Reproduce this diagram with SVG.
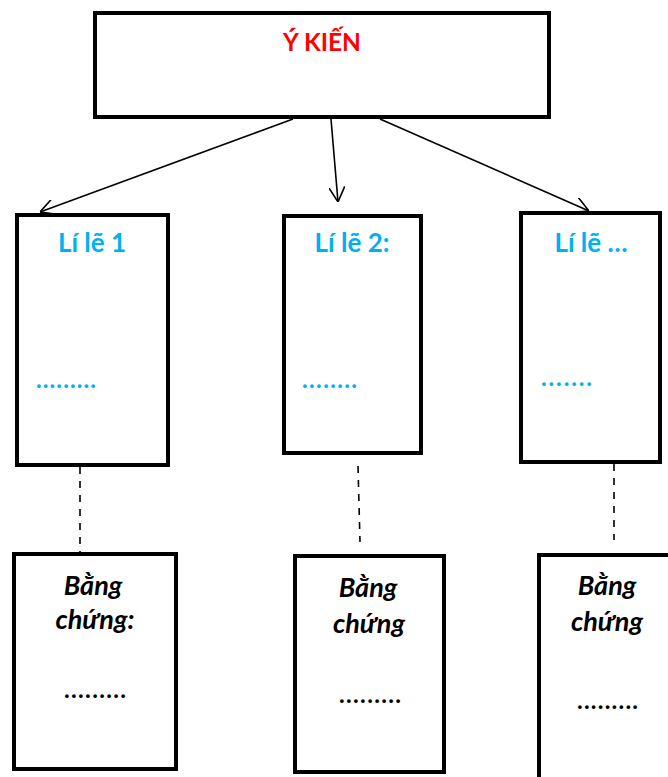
<svg xmlns="http://www.w3.org/2000/svg" width="668" height="777" viewBox="0 0 668 777">
<style>
.box{fill:#fff;stroke:#000;stroke-width:4}
.title{font-family:Lato,"Liberation Sans",sans-serif;font-weight:bold;font-size:24.5px;fill:#FF0000}
.reason{font-family:Lato,"Liberation Sans",sans-serif;font-weight:bold;font-size:26px;fill:#00B0F0}
.rdots{font-family:Lato,"Liberation Sans",sans-serif;font-weight:bold;font-size:24px;fill:#00B0F0}
.ev{font-family:Lato,"Liberation Sans",sans-serif;font-weight:bold;font-style:italic;font-size:27px;fill:#000}
.edots{font-family:Lato,"Liberation Sans",sans-serif;font-weight:bold;font-size:24px;fill:#000}
.arrow{stroke:#000;stroke-width:1.6;fill:none;marker-end:url(#ah)}
.dash{stroke:#000;stroke-width:1.6;fill:none;stroke-dasharray:7 7}
</style>
<defs>
<marker id="ah" viewBox="0 0 15 16" refX="15" refY="8" markerWidth="15" markerHeight="16" markerUnits="userSpaceOnUse" orient="auto">
<path d="M0,0 L15,8 L0,16" fill="none" stroke="#000" stroke-width="1.6"/>
</marker>
</defs>
<rect width="668" height="777" fill="#fff"/>
<g id="connectors">
<line class="arrow" x1="293" y1="119" x2="40" y2="212"/>
<line class="arrow" x1="331" y1="119" x2="338" y2="202"/>
<line class="arrow" x1="380" y1="119" x2="589" y2="211"/>
<line class="dash" x1="80" y1="467" x2="80" y2="553"/>
<line class="dash" x1="358" y1="466" x2="360" y2="542"/>
<line class="dash" x1="614" y1="464" x2="614" y2="540"/>
</g>
<g id="y-kien">
<rect class="box" x="95" y="13" width="454" height="104"/>
<text class="title" x="322" y="51" text-anchor="middle">Ý KIẾN</text>
</g>
<g id="li-le-1">
<rect class="box" x="17" y="215" width="151" height="250"/>
<text class="reason" x="92" y="252" text-anchor="middle">Lí lẽ 1</text>
<text class="rdots" x="36" y="388" textLength="60" lengthAdjust="spacing">.........</text>
</g>
<g id="li-le-2">
<rect class="box" x="284" y="216" width="137" height="237"/>
<text class="reason" x="352" y="252" text-anchor="middle">Lí lẽ 2:</text>
<text class="rdots" x="302" y="388" textLength="55" lengthAdjust="spacing">........</text>
</g>
<g id="li-le-n">
<rect class="box" x="521" y="213" width="139" height="249"/>
<text class="reason" x="591" y="252" text-anchor="middle">Lí lẽ …</text>
<text class="rdots" x="541" y="386" textLength="51" lengthAdjust="spacing">.......</text>
</g>
<g id="bang-chung-1">
<rect class="box" x="14" y="554" width="162" height="215"/>
<text class="ev" x="93" y="595" text-anchor="middle">Bằng</text>
<text class="ev" x="95" y="629" text-anchor="middle">chứng:</text>
<text class="edots" x="64" y="698" textLength="62" lengthAdjust="spacing">.........</text>
</g>
<g id="bang-chung-2">
<rect class="box" x="295" y="556" width="149" height="216"/>
<text class="ev" x="368" y="597" text-anchor="middle">Bằng</text>
<text class="ev" x="369" y="633" text-anchor="middle">chứng</text>
<text class="edots" x="339" y="703" textLength="62" lengthAdjust="spacing">.........</text>
</g>
<g id="bang-chung-3">
<rect class="box" x="539" y="555" width="140" height="240"/>
<text class="ev" x="607" y="595" text-anchor="middle">Bằng</text>
<text class="ev" x="607" y="631" text-anchor="middle">chứng</text>
<text class="edots" x="577" y="709" textLength="61" lengthAdjust="spacing">.........</text>
</g>
</svg>
